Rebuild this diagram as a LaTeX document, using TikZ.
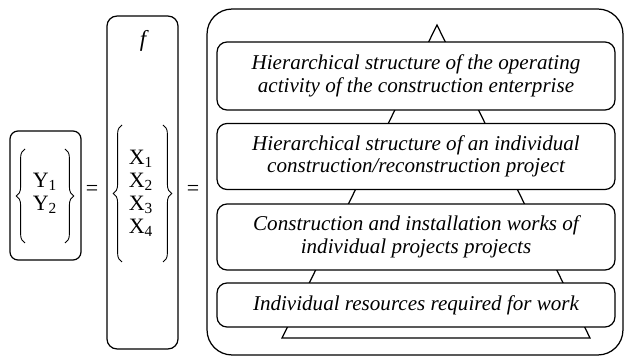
\documentclass[tikz,border=0pt]{standalone}
\usepackage{fontspec}
\setmainfont{Liberation Serif}
\usetikzlibrary{decorations.pathreplacing}

\tikzset{
  framebox/.style={draw, line width=0.7pt, inner sep=0pt},
  levelbox/.style={draw, line width=0.7pt, rounded corners=0.2cm, fill=white, minimum width=7.96cm, align=center, inner sep=0pt, font=\fontsize{12}{12.8}\selectfont\itshape},
  curly/.style={decorate, decoration={brace, amplitude=5pt}, line width=0.5pt},
  var/.style={inner sep=0pt, font=\fontsize{12.5}{12.5}\selectfont},
}

\begin{document}
\begin{tikzpicture}[x=0.02cm, y=-0.02cm]
\useasboundingbox (0,0) rectangle (625,357);

% output vector
\node[framebox, rounded corners=0.16cm, minimum width=1.42cm, minimum height=2.58cm] (ybox) at (45.5,195.5) {};
\node[var] (y1) at (45,182) {Y\textsubscript{1}};
\node[var] (y2) at (45,205) {Y\textsubscript{2}};
\draw[curly] (25,243) -- (25,149);
\draw[curly] (65,149) -- (65,243);
\node[var] (eqa) at (92,190) {=};

% function of factors
\node[framebox, rounded corners=0.2cm, minimum width=1.42cm, minimum height=6.66cm] (fbox) at (142.5,182.5) {};
\node[var, font=\fontsize{13}{13}\selectfont\itshape] (fname) at (143,41) {f};
\node[var] (x1) at (141,159) {X\textsubscript{1}};
\node[var] (x2) at (141,182) {X\textsubscript{2}};
\node[var] (x3) at (141,205) {X\textsubscript{3}};
\node[var] (x4) at (141,228) {X\textsubscript{4}};
\draw[curly] (122,262) -- (122,125);
\draw[curly] (163,125) -- (163,262);
\node[var] (eqb) at (193,190) {=};

% hierarchy levels
\node[framebox, rounded corners=0.5cm, minimum width=8.32cm, minimum height=6.92cm] (outer) at (415,182) {};
\draw[line width=0.7pt] (437,25) -- (282,338) -- (590,338) -- cycle;
\node[levelbox, minimum height=1.36cm] (lvla) at (416,76) {Hierarchical structure of the operating\\activity of the construction enterprise};
\node[levelbox, minimum height=1.32cm] (lvlb) at (416,156.5) {Hierarchical structure of an individual\\construction/reconstruction project};
\node[levelbox, minimum height=1.32cm] (lvlc) at (416,237) {Construction and installation works of\\individual projects projects};
\node[levelbox, minimum height=0.88cm] (lvld) at (416,305) {Individual resources required for work};
\end{tikzpicture}
\end{document}
